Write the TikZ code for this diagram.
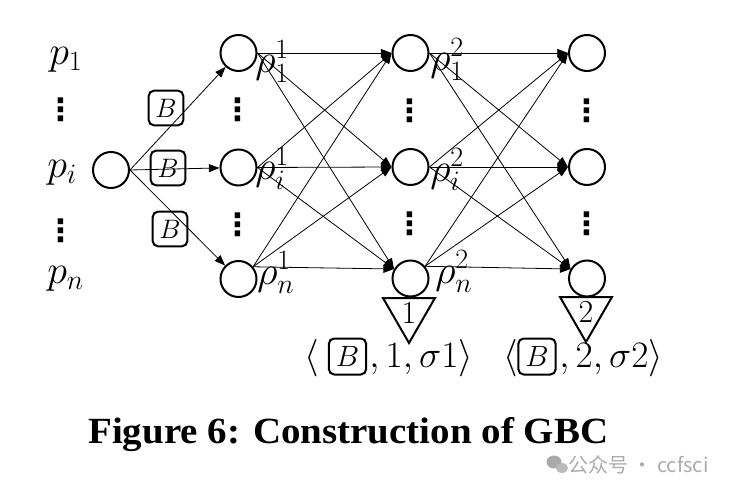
\RequirePackage{fix-cm}
\documentclass[tikz,border=0pt]{standalone}
\usepackage{graphicx}
\usepackage{fontspec}
\usetikzlibrary{arrows.meta,shapes.geometric}
\newfontfamily\capfont{Liberation Serif}
\newfontfamily\cjkfont{Noto Sans CJK SC}
\newfontfamily\dvfont{DejaVu Sans}
\newcommand\myvdots{\resizebox{!}{17pt}{\dvfont\bfseries ⋮}}
\definecolor{wmgray}{RGB}{170,170,170}
\tikzset{
  vtx/.style={circle, draw, line width=1.5pt, minimum size=27pt, inner sep=0pt},
  bbox/.style={draw, line width=1.5pt, rounded corners=4pt, minimum width=26pt, minimum height=26pt, inner sep=0pt, font=\fontsize{20}{24}\selectfont},
  lbox/.style={draw, line width=1.5pt, rounded corners=4pt, minimum width=28pt, minimum height=27pt, inner sep=0pt, font=\fontsize{22}{26}\selectfont},
  edge/.style={line width=0.6pt, -{Triangle[length=8pt,width=6pt]}},
  lbl/.style={font=\fontsize{30}{36}\selectfont, inner sep=0pt},
  tup/.style={font=\fontsize{28}{34}\selectfont, inner sep=0pt},
  dts/.style={inner sep=0pt},
  tri/.style={regular polygon, regular polygon sides=3, shape border rotate=180, draw, line width=1.5pt, minimum size=45pt, inner sep=0pt, font=\fontsize{24}{28}\selectfont},
}
\begin{document}
\begin{tikzpicture}[x=0.75pt,y=-0.75pt]
\useasboundingbox (0,0) rectangle (736,492);
% left labels
\node[lbl, anchor=base west] (p1) at (49,65) {$p_1$};
\node[dts] (d01) at (61,110) {\myvdots};
\node[lbl, anchor=base west] (pi) at (47,177) {$p_i$};
\node[dts] (d02) at (61,231) {\myvdots};
\node[lbl, anchor=base west] (pn) at (47,283) {$p_n$};
% source
\node[vtx] (src) at (111,170) {};
% columns
\node[vtx] (a1) at (238.5,53) {};
\node[vtx] (a2) at (238.5,167.5) {};
\node[vtx] (a3) at (238.5,279) {};
\node[vtx] (b1) at (410.5,53) {};
\node[vtx] (b2) at (410.5,167) {};
\node[vtx] (b3) at (410.5,278.5) {};
\node[vtx] (c1) at (587,53) {};
\node[vtx] (c2) at (587,167) {};
\node[vtx] (c3) at (587,278.5) {};
% dots
\node[dts] (d11) at (238,110) {\myvdots};
\node[dts] (d12) at (238,225) {\myvdots};
\node[dts] (d21) at (410,111) {\myvdots};
\node[dts] (d22) at (410,224) {\myvdots};
\node[dts] (d31) at (587,111) {\myvdots};
\node[dts] (d32) at (587,224) {\myvdots};
% B boxes
\node[bbox] (bx1) at (166,108) {$B$};
\node[bbox] (bx2) at (168,168) {$B$};
\node[bbox] (bx3) at (170,229) {$B$};
% source edges
\draw[edge] (src.east) -- (a1);
\draw[edge] (src.east) -- (a2);
\draw[edge] (src.east) -- (a3);
% layer edges
\foreach \s/\sa in {1/east,2/east,3/40}{
  \foreach \t/\ta in {1/west,2/west,3/150}{
    \draw[edge] (a\s.\sa) -- (b\t.\ta);
    \draw[edge] (b\s.\sa) -- (c\t.\ta);
  }
}
% rho labels
\node[lbl, anchor=base west] (r11) at (255,73) {$\rho_1^1$};
\node[lbl, anchor=base west] (r1i) at (255,180) {$\rho_i^1$};
\node[lbl, anchor=base west] (r1n) at (257,284) {$\rho_n^1$};
\node[lbl, anchor=base west] (r21) at (430,71) {$\rho_1^2$};
\node[lbl, anchor=base west] (r2i) at (430,181) {$\rho_i^2$};
\node[lbl, anchor=base west] (r2n) at (435,283) {$\rho_n^2$};
% triangles
\node[tri] (t1) at (409,313) {1};
\node[tri] (t2) at (586,312) {2};
% bottom tuples
\node[tup, anchor=base west] (q1a) at (304,367) {$\langle$};
\node[lbox] (q1b) at (347.5,356.5) {$B$};
\node[tup, anchor=base west] (q1c) at (369,367) {$,1,\sigma1\rangle$};
\node[tup, anchor=base west] (q2a) at (503,367) {$\langle$};
\node[lbox] (q2b) at (537,356.5) {$B$};
\node[tup, anchor=base west] (q2c) at (559,367) {$,2,\sigma2\rangle$};
% caption
\node[anchor=base west, inner sep=0pt] (cap) at (88,443) {\resizebox{390pt}{19.5pt}{\capfont\bfseries Figure 6: Construction of GBC}};
% watermark
\fill[wmgray] (554,462) ellipse [x radius=7.5, y radius=6.5];
\fill[wmgray!80] (562,468) ellipse [x radius=6, y radius=5];
\node[anchor=west, inner sep=0pt, text=wmgray, font=\cjkfont\fontsize{15}{18}\selectfont] (wm) at (568,465) {公众号 · ccfsci};
\end{tikzpicture}
\end{document}
